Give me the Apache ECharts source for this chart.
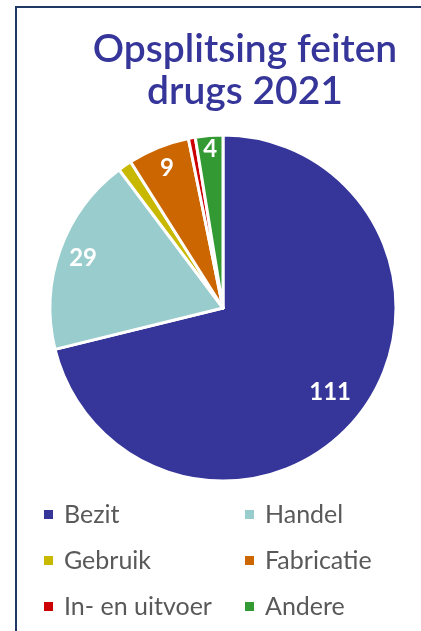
<!DOCTYPE html>
<html>
<head>
<meta charset="utf-8">
<script src="https://cdn.jsdelivr.net/npm/echarts@6/dist/echarts.min.js"></script>
<style>
  html, body { margin: 0; padding: 0; background: #fff; }
  #chart { width: 421px; height: 631px; }
</style>
</head>
<body>
<div id="chart"></div>
<script>
// Drug-related offences 2021, split by type
const categories = ['Bezit', 'Handel', 'Gebruik', 'Fabricatie', 'In- en uitvoer', 'Andere'];
const counts = [111, 29, 2, 9, 1, 4];
const sliceColors = ['#35359a', '#99cccc', '#c8b900', '#cc6600', '#cc0000', '#339933'];
const showValue = [true, true, false, true, false, true];
// how far out (fraction of radius) each value label sits
const labelReach = [0.76, 0.83, 0.8, 0.84, 0.8, 0.89];

const CX = 223, CY = 308, R = 173;

const chart = echarts.init(document.getElementById('chart'), null, { renderer: 'canvas' });

const pieData = categories.map((name, i) => ({
  name: name,
  value: counts[i],
  itemStyle: { color: sliceColors[i] },
  label: { show: showValue[i] }
}));

const legendText = {
  fontFamily: 'Lato',
  fontSize: 25,
  lineHeight: 25,
  color: '#595959',
  padding: [0, 0, 0, 5]
};

function legendBlock(names, left) {
  return {
    orient: 'vertical',
    left: left,
    top: 502,
    padding: 0,
    itemWidth: 11,
    itemHeight: 11,
    itemGap: 21,
    icon: 'rect',
    selectedMode: false,
    data: names,
    textStyle: legendText
  };
}

chart.setOption({
  animation: false,
  backgroundColor: '#ffffff',
  title: {
    text: 'Opsplitsing feiten\ndrugs 2021',
    left: 240,
    top: 23,
    textAlign: 'center',
    textStyle: {
      fontFamily: 'Lato',
      fontWeight: 600,
      fontSize: 39,
      lineHeight: 42,
      color: '#35359a'
    }
  },
  graphic: [{
    type: 'rect',
    shape: { x: 16, y: 7, width: 440, height: 700 },
    style: { fill: 'none', stroke: '#203864', lineWidth: 2 },
    silent: true
  }],
  legend: [
    legendBlock(['Bezit', 'Gebruik', 'In- en uitvoer'], 42),
    legendBlock(['Handel', 'Fabricatie', 'Andere'], 243)
  ],
  series: [{
    type: 'pie',
    center: [CX, CY],
    radius: [0, R],
    startAngle: 90,
    clockwise: true,
    avoidLabelOverlap: false,
    itemStyle: { borderColor: '#ffffff', borderWidth: 3 },
    label: {
      position: 'inside',
      formatter: '{c}',
      color: '#ffffff',
      fontFamily: 'Lato',
      fontWeight: 'bold',
      fontSize: 24
    },
    labelLine: { show: false },
    labelLayout: function (p) {
      const k = labelReach[p.dataIndex] / 0.5;
      const lx = p.labelRect.x + p.labelRect.width / 2;
      const ly = p.labelRect.y + p.labelRect.height / 2;
      return { x: CX + (lx - CX) * k, y: CY + (ly - CY) * k };
    },
    emphasis: { disabled: true },
    data: pieData
  }]
});
</script>
</body>
</html>
